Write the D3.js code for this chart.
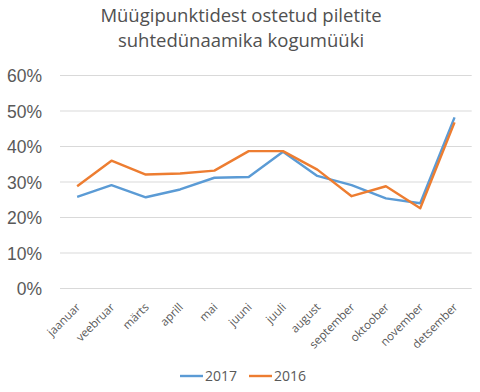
<!DOCTYPE html>
<html><head><meta charset="utf-8">
<script src="https://cdn.jsdelivr.net/npm/d3@7"></script>
<style>body{margin:0;background:#fff}</style>
</head><body>
<svg id="c" width="480" height="392"></svg>
<script>
const titleLines = ["Müügipunktidest ostetud piletite", "suhtedünaamika kogumüüki"];
const months = ["jaanuar","veebruar","märts","aprill","mai","juuni","juuli","august","september","oktoober","november","detsember"];
const values2017 = [0.258,0.291,0.257,0.279,0.312,0.314,0.385,0.317,0.291,0.254,0.240,0.482];
const values2016 = [0.288,0.360,0.321,0.324,0.332,0.387,0.387,0.335,0.260,0.288,0.226,0.468];
const yTicks = [0,0.1,0.2,0.3,0.4,0.5,0.6];
const seriesNames = ["2017","2016"];
const colors = ["#5B9BD5","#ED7D31"];

const svg = d3.select("#c");
const x = d3.scaleBand().domain(months).range([60,471.7]).padding(0);
const y = d3.scaleLinear().domain([0,0.6]).range([288.5,75.5]);

// title
svg.selectAll("text.title").data(titleLines).join("text")
  .attr("class","title")
  .attr("x",241).attr("y",(d,i)=>22+i*24.5)
  .attr("text-anchor","middle")
  .style("font-family","'Open Sans'").style("font-size","18.5px").style("fill","#505050")
  .text(d=>d);

// gridlines
svg.append("g").selectAll("line").data(yTicks).join("line")
  .attr("x1",60).attr("x2",471.7)
  .attr("y1",d=>y(d)).attr("y2",d=>y(d))
  .attr("stroke","#d9d9d9").attr("stroke-width",1);

// y axis labels
const yAxis = d3.axisLeft(y).tickValues(yTicks).tickFormat(d3.format(".0%")).tickSize(0).tickPadding(0);
const gy = svg.append("g").attr("transform","translate(42,0)").call(yAxis);
gy.select(".domain").remove();
gy.selectAll("text").style("font-family","'Liberation Sans'").style("font-size","17.5px").style("fill","#595959").attr("dy","0.36em");

// x axis labels
const xAxis = d3.axisBottom(x).tickSize(0).tickPadding(0);
const gx = svg.append("g").attr("transform","translate(0,300)").call(xAxis);
gx.select(".domain").remove();
gx.selectAll("text")
  .attr("text-anchor","end").attr("dy","0.35em").attr("y",0).attr("x",0)
  .attr("transform","translate(1,5) rotate(-45)")
  .style("font-family","'Open Sans'").style("font-size","11.5px").style("fill","#595959");

// lines
const line = d3.line().x((d,i)=>x(months[i])+x.bandwidth()/2).y(d=>y(d));
[values2017, values2016].forEach((vals,k)=>{
  svg.append("path").datum(vals).attr("d",line)
    .attr("fill","none").attr("stroke",colors[k]).attr("stroke-width",2.4)
    .attr("stroke-linejoin","round");
});

// legend
const lg = svg.append("g").attr("transform","translate(180,376)");
seriesNames.forEach((n,i)=>{
  const g = lg.append("g").attr("transform",`translate(${i*69},0)`);
  g.append("line").attr("x1",0).attr("x2",23).attr("y1",0).attr("y2",0).attr("stroke",colors[i]).attr("stroke-width",2.4);
  g.append("text").attr("x",25).attr("y",5).style("font-family","'Open Sans'").style("font-size","14px").style("fill","#595959").text(n);
});
</script>
</body></html>
